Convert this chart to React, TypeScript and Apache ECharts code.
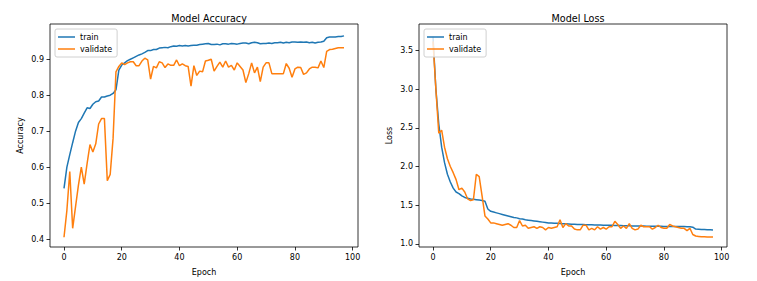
import React, { useEffect, useRef } from "react";
import * as echarts from "echarts";

const epochTicks = [0, 20, 40, 60, 80, 100];
const accTicks = [0.4, 0.5, 0.6, 0.7, 0.8, 0.9];
const lossTicks = [1.0, 1.5, 2.0, 2.5, 3.0, 3.5];

const accTrain = [
  0.541, 0.600, 0.635, 0.668, 0.700, 0.724, 0.735, 0.750, 0.765, 0.763,
  0.775, 0.782, 0.784, 0.795, 0.795, 0.798, 0.800, 0.805, 0.815, 0.870,
  0.884, 0.890, 0.896, 0.900, 0.904, 0.908, 0.912, 0.915, 0.919, 0.924,
  0.924, 0.927, 0.927, 0.931, 0.932, 0.933, 0.932, 0.935, 0.937, 0.936,
  0.938, 0.937, 0.938, 0.937, 0.938, 0.939, 0.939, 0.941, 0.942, 0.943,
  0.944, 0.941, 0.941, 0.942, 0.940, 0.943, 0.943, 0.942, 0.944, 0.943,
  0.942, 0.944, 0.945, 0.945, 0.943, 0.946, 0.947, 0.946, 0.943, 0.944,
  0.944, 0.945, 0.944, 0.946, 0.946, 0.947, 0.945, 0.947, 0.946, 0.948,
  0.948, 0.947, 0.948, 0.947, 0.948, 0.946, 0.947, 0.945, 0.947, 0.948,
  0.950, 0.960, 0.962, 0.962, 0.962, 0.963, 0.963, 0.965,
];

const accVal = [
  0.405, 0.480, 0.588, 0.430, 0.490, 0.550, 0.600, 0.553, 0.610, 0.663,
  0.642, 0.665, 0.720, 0.735, 0.735, 0.562, 0.580, 0.680, 0.865, 0.880,
  0.890, 0.885, 0.890, 0.893, 0.893, 0.882, 0.882, 0.895, 0.903, 0.898,
  0.845, 0.880, 0.876, 0.893, 0.890, 0.877, 0.887, 0.883, 0.883, 0.898,
  0.882, 0.887, 0.882, 0.880, 0.825, 0.882, 0.855, 0.867, 0.865, 0.895,
  0.897, 0.900, 0.867, 0.880, 0.892, 0.878, 0.895, 0.878, 0.883, 0.870,
  0.890, 0.880, 0.870, 0.835, 0.860, 0.890, 0.862, 0.878, 0.838, 0.878,
  0.890, 0.890, 0.860, 0.860, 0.860, 0.860, 0.860, 0.888, 0.875, 0.850,
  0.873, 0.878, 0.877, 0.858, 0.862, 0.873, 0.878, 0.878, 0.876, 0.895,
  0.877, 0.922, 0.927, 0.928, 0.930, 0.932, 0.932, 0.932,
];

const lossTrain = [
  3.68, 3.00, 2.55, 2.25, 2.05, 1.90, 1.80, 1.72, 1.67, 1.65,
  1.62, 1.60, 1.59, 1.58, 1.575, 1.57, 1.565, 1.56, 1.55, 1.45,
  1.42, 1.41, 1.40, 1.39, 1.38, 1.37, 1.36, 1.35, 1.34, 1.335,
  1.325, 1.32, 1.31, 1.305, 1.30, 1.295, 1.29, 1.285, 1.28, 1.275,
  1.27, 1.268, 1.266, 1.264, 1.262, 1.26, 1.258, 1.256, 1.254, 1.252,
  1.25, 1.249, 1.248, 1.247, 1.246, 1.245, 1.244, 1.243, 1.242, 1.241,
  1.24, 1.239, 1.238, 1.237, 1.236, 1.235, 1.234, 1.233, 1.232, 1.231,
  1.23, 1.23, 1.229, 1.229, 1.228, 1.228, 1.227, 1.227, 1.226, 1.226,
  1.225, 1.225, 1.224, 1.224, 1.223, 1.223, 1.222, 1.222, 1.221, 1.22,
  1.215, 1.19, 1.188, 1.186, 1.184, 1.182, 1.18, 1.178,
];

const lossVal = [
  3.62, 3.00, 2.43, 2.47, 2.25, 2.10, 2.00, 1.92, 1.83, 1.70,
  1.72, 1.67, 1.58, 1.56, 1.57, 1.90, 1.87, 1.62, 1.36, 1.32,
  1.27, 1.27, 1.26, 1.25, 1.24, 1.25, 1.26, 1.24, 1.21, 1.21,
  1.30, 1.23, 1.24, 1.20, 1.21, 1.22, 1.20, 1.22, 1.21, 1.18,
  1.21, 1.20, 1.21, 1.22, 1.31, 1.21, 1.26, 1.23, 1.23, 1.19,
  1.18, 1.18, 1.24, 1.24, 1.18, 1.20, 1.18, 1.22, 1.19, 1.21,
  1.19, 1.22, 1.22, 1.29, 1.25, 1.20, 1.23, 1.20, 1.26, 1.20,
  1.18, 1.19, 1.24, 1.22, 1.22, 1.22, 1.19, 1.21, 1.24, 1.21,
  1.20, 1.20, 1.25, 1.23, 1.22, 1.21, 1.20, 1.20, 1.17, 1.20,
  1.12, 1.10, 1.095, 1.09, 1.09, 1.088, 1.087, 1.086,
];

const FONT = "DejaVu Sans";
const TRAIN_COLOR = "#1f77b4";
const VAL_COLOR = "#ff7f0e";

const toPairs = (arr: number[]) => arr.map((v, i) => [i, v]);

export default function App() {
  const ref = useRef<HTMLDivElement>(null);
  useEffect(() => {
    if (!ref.current) return;
    const chart = echarts.init(ref.current, null, { renderer: "svg" });
    const gridW = 308;
    const gridH = 226;
    const grids = [
      { left: 50, top: 24, width: gridW, height: gridH },
      { left: 419, top: 24, width: gridW, height: gridH },
    ];
    const xAxisBase = (gi: number) => ({
      type: "value",
      gridIndex: gi,
      position: "bottom",
      min: -4.85,
      max: 101.85,
      name: "Epoch",
      nameLocation: "middle",
      nameGap: 21,
      nameTextStyle: { fontFamily: FONT, fontSize: 8, color: "#000" },
      axisLine: { show: false, onZero: false },
      splitLine: { show: false },
      axisTick: {
        show: true,
        length: 3.5,
        customValues: epochTicks,
        lineStyle: { color: "#000", width: 0.8 },
      },
      axisLabel: {
        customValues: epochTicks,
        fontFamily: FONT,
        fontSize: 8,
        color: "#000",
        margin: 6,
      },
    });
    const yAxisBase = (gi: number, name: string, min: number, max: number, ticks: number[]) => ({
      type: "value",
      gridIndex: gi,
      position: "left",
      min,
      max,
      name,
      nameLocation: "middle",
      nameGap: 26,
      nameTextStyle: { fontFamily: FONT, fontSize: 8, color: "#000" },
      axisLine: { show: false, onZero: false },
      splitLine: { show: false },
      axisTick: {
        show: true,
        length: 3.5,
        customValues: ticks,
        lineStyle: { color: "#000", width: 0.8 },
      },
      axisLabel: {
        customValues: ticks,
        fontFamily: FONT,
        fontSize: 8,
        color: "#000",
        margin: 6,
        formatter: (v: number) => v.toFixed(1),
      },
    });
    const legendBase = (left: number) => ({
      left,
      top: 29,
      orient: "vertical",
      data: ["train", "validate"],
      icon: "rect",
      itemWidth: 17,
      itemHeight: 1.5,
      itemGap: 2,
      padding: [3, 5, 3, 3],
      backgroundColor: "rgba(255,255,255,0.8)",
      borderColor: "#d0d0d0",
      borderWidth: 1,
      borderRadius: 2,
      selectedMode: false,
      textStyle: { fontFamily: FONT, fontSize: 8, color: "#000", lineHeight: 10, padding: [0, 0, 0, 0] },
    });
    const lineSeries = (name: string, data: number[], color: string, gi: number) => ({
      type: "line",
      name,
      xAxisIndex: gi,
      yAxisIndex: gi,
      data: toPairs(data),
      showSymbol: false,
      symbol: "none",
      lineStyle: { color, width: 1.5 },
      itemStyle: { color },
      z: name === "train" ? 2 : 3,
    });
    chart.setOption({
      animation: false,
      backgroundColor: "#fff",
      title: [
        {
          text: "Model Accuracy",
          left: 204,
          top: 8,
          textAlign: "center",
          textStyle: { fontFamily: FONT, fontSize: 9.6, fontWeight: "normal", color: "#000" },
        },
        {
          text: "Model Loss",
          left: 573,
          top: 8,
          textAlign: "center",
          textStyle: { fontFamily: FONT, fontSize: 9.6, fontWeight: "normal", color: "#000" },
        },
      ],
      grid: grids.map((g) => ({
        ...g,
        show: true,
        borderColor: "#000",
        borderWidth: 0.8,
        backgroundColor: "transparent",
      })),
      legend: [legendBase(55), legendBase(424)],
      xAxis: [xAxisBase(0), xAxisBase(1)],
      yAxis: [
        yAxisBase(0, "Accuracy", 0.378, 0.998, accTicks),
        yAxisBase(1, "Loss", 0.958, 3.845, lossTicks),
      ],
      series: [
        lineSeries("train", accTrain, TRAIN_COLOR, 0),
        lineSeries("validate", accVal, VAL_COLOR, 0),
        lineSeries("train", lossTrain, TRAIN_COLOR, 1),
        lineSeries("validate", lossVal, VAL_COLOR, 1),
      ],
    });
    return () => chart.dispose();
  }, []);
  return (
    <div
      ref={ref}
      style={{ position: "fixed", left: 0, top: 0, width: 757, height: 281, background: "#fff" }}
    />
  );
}
